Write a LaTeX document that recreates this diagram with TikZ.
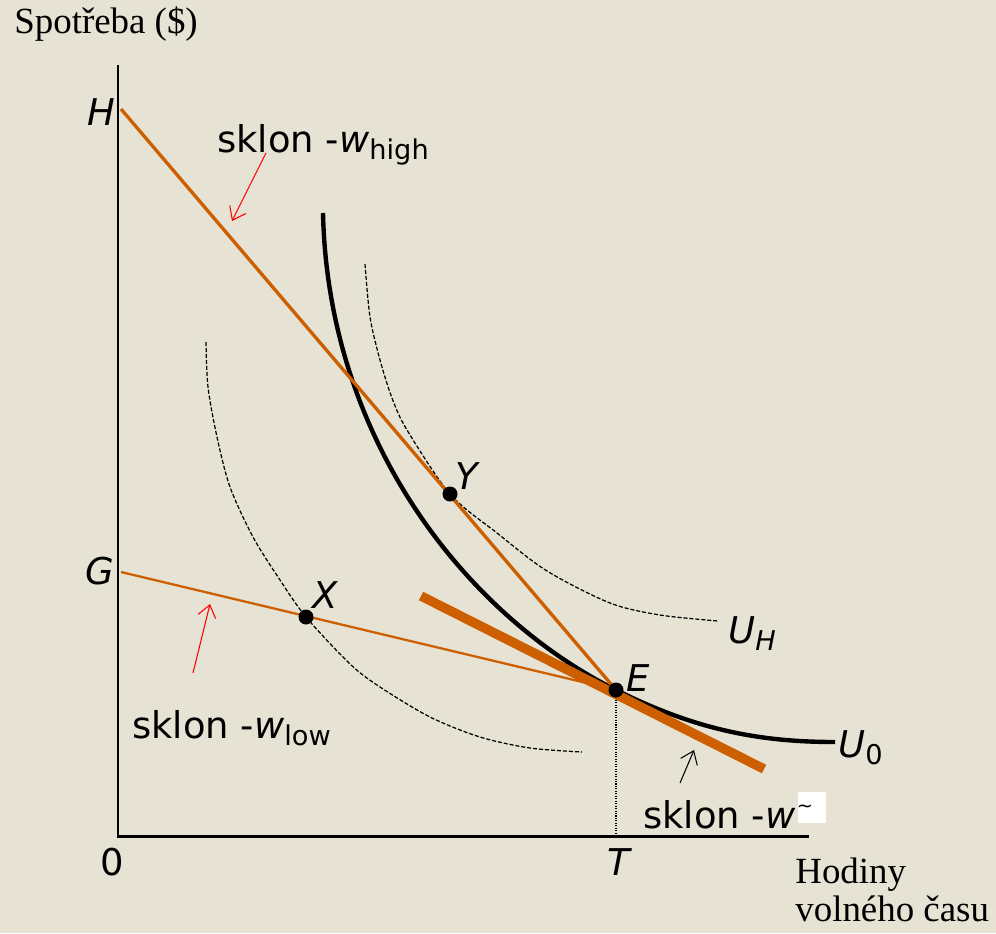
\documentclass[tikz,border=0pt]{standalone}
\usepackage{fontspec}
\setmainfont{Liberation Serif}
\newfontfamily\vsans{DejaVu Sans}
\usetikzlibrary{arrows.meta,calc,positioning}
\definecolor{paper}{RGB}{230,227,212}
\definecolor{rust}{RGB}{205,95,0}
\newcommand{\subtx}[1]{\raisebox{-4.5pt}{\fontsize{15.5}{18}\selectfont #1}}

\begin{document}
\begin{tikzpicture}[x=0.02cm,y=-0.02cm,
    lbl/.style={font=\vsans\fontsize{21}{25}\selectfont,inner sep=0pt},
    ilbl/.style={font=\vsans\itshape\fontsize{21}{25}\selectfont,inner sep=0pt},
    ttl/.style={font=\fontsize{21}{26}\selectfont,inner sep=0pt,anchor=base west},
    indiff/.style={line width=0.7pt,dash pattern=on 2.3pt off 1.1pt},
    dotpt/.style={circle,fill=black,inner sep=0pt,minimum size=0.3cm},
    barb/.style={line width=0.6pt,-{Straight Barb[length=2.4mm,width=3.6mm]}}]
  % background and frame of the picture
  \fill[paper] (0,0) rectangle (996,933);
  \useasboundingbox (0,0) rectangle (996,933);
  % points
  \coordinate (O) at (118,836);
  \coordinate (ytop) at (118,65);
  \coordinate (xend) at (809,836);
  \coordinate (H) at (121,109);
  \coordinate (G) at (121,572);
  \coordinate (E) at (616,690);
  \coordinate (T) at (616,836);
  \coordinate (tanA) at (421,596);
  \coordinate (tanB) at (764,769);
  % axes
  \draw[line width=1.7pt] (ytop) -- (O) -- (xend);
  \draw[line width=0.6pt,dash pattern=on 0.6pt off 0.8pt] (E) -- (T);
  % indifference curves
  \draw[indiff] plot[smooth] coordinates {(365,264) (370,317) (380,360) (392,398)
    (407,430) (450,494) (497,533) (547,571) (610,603) (660,615) (718,621)};
  \draw[indiff] plot[smooth] coordinates {(206,342) (208,387) (217,437) (230,487)
    (253,537) (280,580) (306,617) (350,664) (380,687) (430,717) (480,737) (530,748) (582,752)};
  \draw[line width=2.5pt] (323,213) .. controls (328,440) and (466,615) .. (E)
    .. controls (696,730) and (760,742) .. (835,742);
  % budget lines
  \draw[rust,line width=1.9pt] (H) -- (E);
  \draw[rust,line width=1.3pt] (G) -- (E);
  \draw[rust,line width=5.4pt] (tanA) -- (tanB);
  % points on the curves
  \node[dotpt] (Y) at (450,494) {};
  \node[dotpt] (X) at (306,617) {};
  \node[dotpt] (Ept) at (E) {};
  \node[ilbl] (lY) at (467,476) {Y};
  \node[ilbl] (lX) at (325,595) {X};
  \node[ilbl] (lE) at (638,678) {E};
  \node[ilbl] (lH) at (101,112) {H};
  \node[ilbl] (lG) at (100,571) {G};
  \node[lbl] (l0) at (112,862) {0};
  \node[ilbl] (lT) at (619,862) {T};
  \node[ilbl,anchor=base west] (lUH) at (728,643) {U\subtx{H}};
  \node[ilbl,anchor=base west] (lU0) at (838,757) {U\subtx{\upshape 0}};
  % axis titles
  \node[ttl] (ylab) at (14,33) {Spotřeba (\$)};
  \node[ttl] (xlab) at (795,883) {Hodiny};
  \node[ttl] (xlab2) at (795,921) {volného času};
  % slope labels
  \node[lbl,anchor=base west] (sHigh) at (217,152) {sklon -{\itshape w}\subtx{high}};
  \node[lbl,anchor=base west] (sLow) at (132,738) {sklon -{\itshape w}\subtx{low}};
  \node[lbl,anchor=base west] (sTan) at (643,828) {sklon -{\itshape w}};
  \fill[white] (798,792) rectangle (826,823);
  \node[font=\vsans\fontsize{11}{13}\selectfont,inner sep=0pt] (tld) at (805,809) {\textasciitilde};
  % arrows to the lines
  \coordinate (hA) at (266,153); \coordinate (hB) at (232,221);
  \coordinate (lA) at (193,673); \coordinate (lB) at (210,604);
  \coordinate (tA) at (680,783); \coordinate (tB) at (694,750);
  \draw[barb,red] (hA) -- (hB);
  \draw[barb,red] (lA) -- (lB);
  \draw[barb] (tA) -- (tB);
\end{tikzpicture}
\end{document}
